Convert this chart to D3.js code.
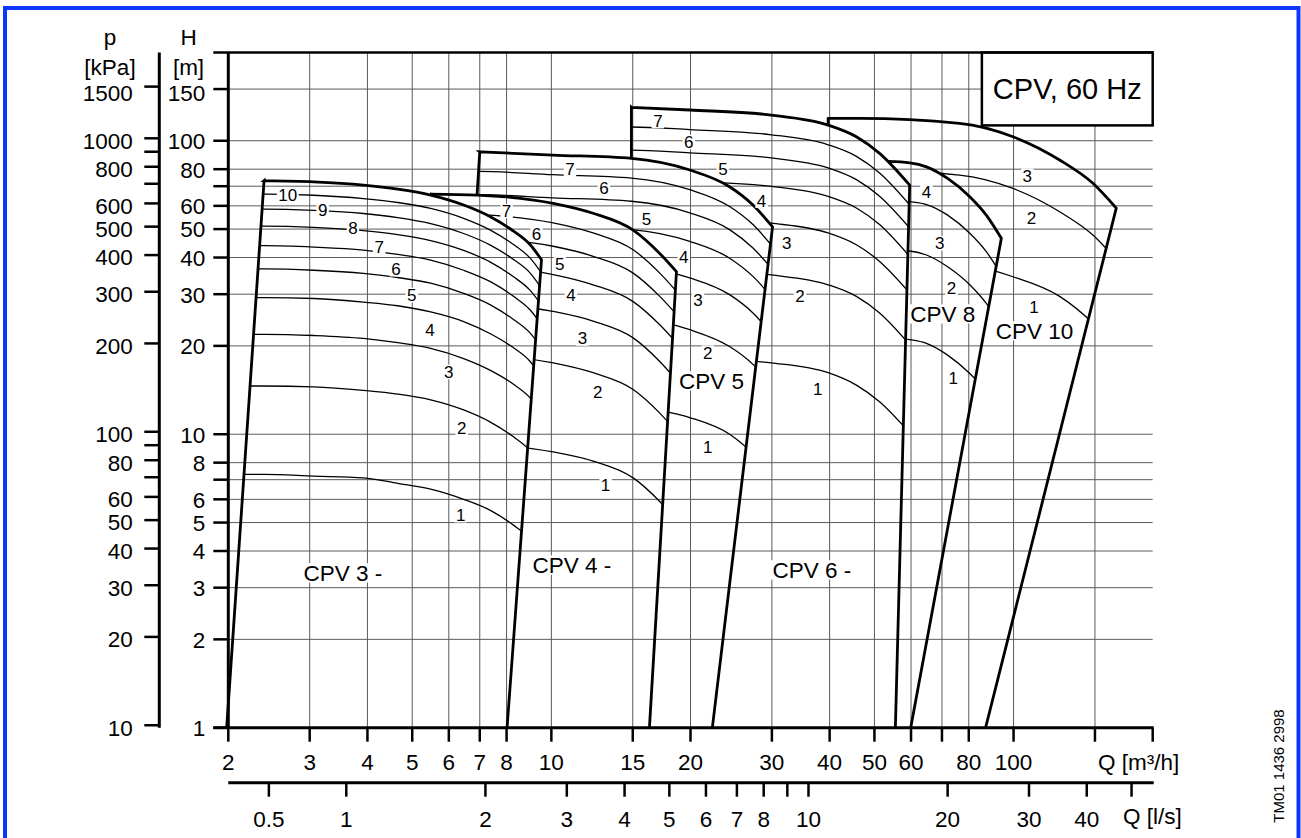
<!DOCTYPE html>
<html><head><meta charset="utf-8">
<script src="https://cdn.jsdelivr.net/npm/d3@7"></script>
<style>
body{margin:0;background:#fff}
svg{display:block}
text{font-family:"Liberation Sans",Arial,Helvetica,sans-serif;fill:#000}
</style>
</head><body>
<svg id="c" width="1301" height="838"></svg>
<script>
// ---------------- axis data ----------------
const qTicks = [2,3,4,5,6,7,8,10,15,20,30,40,50,60,70,80,100,150,200];
const qTickLabels = ["2","3","4","5","6","7","8","10","15","20","30","40","50","60","","80","100","",""];
const lsTicks = [0.68,1,2,3,4,5,6,7,8,9,10,20,30,40,50];
const lsTickLabels = ["0.5","1","2","3","4","5","6","7","8","","10","20","30","40",""];
const hTicks = [1,2,3,4,5,6,7,8,10,20,30,40,50,60,70,80,100,150];
const hTickLabels = ["1","2","3","4","5","6","","8","10","20","30","40","50","60","","80","100","150"];
const pTicks = [10,20,30,40,50,60,70,80,90,100,200,300,400,500,600,700,800,900,1000,1500];
const pTickLabels = ["10","20","30","40","50","60","","80","","100","200","300","400","500","600","","800","","1000","1500"];
const gridQ = [3,4,5,6,7,8,10,15,20,30,40,50,60,70,80,100,150];
const gridH = [2,3,4,5,6,7,8,10,20,30,40,50,60,70,80,100,150];

// ---------------- CPV 3 ----------------
const cpv3Q = [2.0,2.39,3.06,3.92,4.65,5.48,6.46,7.38,8.28,9.0,9.52];
const cpv3Stages = [
 [7.3,7.3,7.2,7.1,6.8,6.5,6.0,5.5,4.9,4.4,3.9],
 [14.6,14.6,14.5,14.1,13.7,13.1,12.1,11.0,9.8,8.8,7.9],
 [21.9,21.9,21.7,21.2,20.5,19.6,18.1,16.5,14.8,13.3,11.8],
 [29.2,29.2,29.0,28.2,27.4,26.1,24.2,22.0,19.7,17.7,15.7],
 [36.6,36.6,36.2,35.3,34.2,32.7,30.2,27.6,24.6,22.1,19.7],
 [43.9,43.9,43.4,42.4,41.0,39.2,36.2,33.1,29.5,26.5,23.6],
 [51.2,51.2,50.7,49.4,47.9,45.7,42.3,38.6,34.4,30.9,27.5],
 [58.5,58.5,57.9,56.5,54.7,52.2,48.3,44.1,39.4,35.4,31.4],
 [65.8,65.8,65.2,63.5,61.6,58.8,54.4,49.6,44.3,39.8,35.4]
];
const cpv3TopQ = [2.39,3.06,3.92,4.65,5.48,6.46,7.38,8.28,9.0,9.52];
const cpv3TopH = [73.1,72.4,70.6,68.4,65.3,60.4,55.1,49.2,44.2,39.3];
const cpv3Base = [1.984,8.02];
const cpv3LabelQ = [6.37,6.4,6.0,5.46,4.99,4.61,4.24,3.72,3.2,2.69];
const cpv3LabelH = [5.3,10.5,16.3,22.6,29.8,36.5,43.4,50.4,58.1,65.3];

// ---------------- CPV 4 ----------------
const cpv4Q = [4.4,5.46,6.91,10.09,12.31,15.03,17.16,18.65];
const cpv4Stages = [
 [9.4,9.4,9.3,8.7,8.1,7.1,5.9,5.1],
 [18.8,18.8,18.7,17.5,16.2,14.2,11.8,10.2],
 [28.2,28.2,28.0,26.2,24.3,21.3,17.7,15.3],
 [37.6,37.6,37.3,35.0,32.3,28.3,23.6,20.5],
 [47.0,47.0,46.6,43.7,40.4,35.4,29.5,25.6],
 [56.4,56.4,56.0,52.5,48.5,42.5,35.4,30.7]
];
const cpv4TopQ = [5.46,6.91,10.09,12.31,15.03,17.16,18.65];
const cpv4TopH = [65.8,65.3,61.2,56.6,49.6,41.3,35.8];
const cpv4Base = [4.5,16.3];
const cpv4LabelQ = [13.1,12.6,11.68,11.02,10.43,9.29,8.0];
const cpv4LabelH = [6.71,13.9,21.2,29.8,37.9,48.1,57.6];

// ---------------- CPV 5 ----------------
const cpv5Q = [5.5,7.0,10.07,14.9,19.93,24.3,27.3,30.1];
const cpv5Stages = [
 [13.1,13.1,12.8,12.4,11.4,10.0,8.6,7.3],
 [26.2,26.2,25.5,24.9,22.7,19.9,17.3,14.5],
 [39.3,39.3,38.3,37.3,34.1,29.9,25.9,21.8],
 [52.4,52.4,51.1,49.8,45.4,39.8,34.5,29.1],
 [65.5,65.5,63.9,62.2,56.8,49.8,43.1,36.4],
 [78.6,78.6,76.6,74.6,68.1,59.7,51.8,43.6]
];
const cpv5TopQ = [7.0,10.07,14.9,19.93,24.3,27.3,30.1];
const cpv5TopH = [91.7,89.4,87.1,79.5,69.7,60.4,50.9];
const cpv5Base = [5.85,22.3];
const cpv5LabelQ = [21.79,21.8,20.76,19.34,16.06,12.99,10.97];
const cpv5LabelH = [9.04,18.95,28.7,40.3,54,68.8,79.9];

// ---------------- CPV 6 ----------------
const cpv6Q = [14.0,14.9,19.93,29.9,39.7,45.7,51.3,59.6];
const cpv6Stages = [
 [18.6,18.6,18.2,17.5,16.2,14.7,12.9,10.1],
 [37.1,37.1,36.4,34.9,32.3,29.5,25.9,20.2],
 [55.7,55.7,54.6,52.4,48.5,44.2,38.8,30.3],
 [74.3,74.3,72.7,69.9,64.6,59.0,51.8,40.3],
 [92.9,92.9,90.9,87.4,80.8,73.7,64.7,50.4],
 [111.4,111.4,109.1,104.8,96.9,88.5,77.7,60.5]
];
const cpv6TopQ = [14.9,19.93,29.9,39.7,45.7,51.3,59.6];
const cpv6TopH = [130,127.3,122.3,113.1,103.2,90.6,70.6];
const cpv6Base = [14.9,55.5];
const cpv6LabelQ = [37.7,34.5,32.3,28.5,23.5,19.83,17.0];
const cpv6LabelH = [14.3,29.6,44.8,62.5,79.9,99,116.7];

// ---------------- CPV 8 ----------------
const cpv8Q = [50,53.5,59.6,64.8,72,80.4,87.3,94.1];
const cpv8Stages = [
 [21.3,21.3,21.0,20.4,18.6,16.1,14.0,11.6],
 [42.5,42.5,42.1,40.8,37.2,32.3,27.9,23.3],
 [63.0,63.0,62.0,60.6,55.8,48.4,41.9,34.9]
];
const cpv8TopQ = [53.5,59.6,64.8,72,80.4,87.3,94.1];
const cpv8TopH = [85,84.1,81.5,74.4,64.5,55.8,46.5];
const cpv8Base = [50,59.9];
const cpv8LabelQ = [74,73.4,69.2,64.8];
const cpv8LabelH = [15.5,31.4,44.7,67];

// ---------------- CPV 10 ----------------
const cpv10Q = [38,39.7,46.5,76.4,99.7,125.8,148.5,166.8];
const cpv10Stages = [
 [39.7,39.7,39.7,38.2,34.4,29.5,23.9,19.6],
 [79.5,79.5,79.5,76.4,68.8,57.3,47.7,39.3]
];
const cpv10TopQ = [39.7,46.5,76.4,99.7,125.8,148.5,166.8];
const cpv10TopH = [119.2,119.2,114.6,103.2,86,71.6,58.9];
const cpv10Base = [39.7,87];
const cpv10LabelQ = [110.7,109.3,107.1];
const cpv10LabelH = [27.2,54.4,76];

// ---------------- family names / labels ----------------
const famNames = ["CPV 3 -","CPV 4 -","CPV 5","CPV 6 -","CPV 8","CPV 10"];
const famLabelQ = [3.54,11.08,22.2,36.6,70.3,111];
const famLabelH = [3.37,3.58,15.2,3.45,25.7,22.5];
const titleText = "CPV, 60 Hz";
const titleBoxQ = 85.4, titleBoxH = 112.8;

const families = [
 {q:cpv3Q,stages:cpv3Stages,topQ:cpv3TopQ,topH:cpv3TopH,base:cpv3Base,lq:cpv3LabelQ,lh:cpv3LabelH},
 {q:cpv4Q,stages:cpv4Stages,topQ:cpv4TopQ,topH:cpv4TopH,base:cpv4Base,lq:cpv4LabelQ,lh:cpv4LabelH},
 {q:cpv5Q,stages:cpv5Stages,topQ:cpv5TopQ,topH:cpv5TopH,base:cpv5Base,lq:cpv5LabelQ,lh:cpv5LabelH},
 {q:cpv6Q,stages:cpv6Stages,topQ:cpv6TopQ,topH:cpv6TopH,base:cpv6Base,lq:cpv6LabelQ,lh:cpv6LabelH},
 {q:cpv8Q,stages:cpv8Stages,topQ:cpv8TopQ,topH:cpv8TopH,base:cpv8Base,lq:cpv8LabelQ,lh:cpv8LabelH},
 {q:cpv10Q,stages:cpv10Stages,topQ:cpv10TopQ,topH:cpv10TopH,base:cpv10Base,lq:cpv10LabelQ,lh:cpv10LabelH}
];

// ---------------- drawing ----------------
const W=1301,HH=838;
const svg=d3.select("#c");
const x=d3.scaleLog().domain([2,200]).range([228.3,1152.7]);
const y=d3.scaleLog().domain([1,200]).range([727.7,52.4]);
const X0=x(2),X1=x(200),Y0=y(1),Y1=y(200);
const defs=svg.append("defs");

// blue frame
svg.append("rect").attr("x",5).attr("y",8).attr("width",1293.5).attr("height",900)
  .attr("fill","none").attr("stroke","#0a36ff").attr("stroke-width",4);

// grid
const grid=svg.append("g").attr("stroke","#5a5a5a").attr("stroke-width",1);
gridQ.forEach(q=>grid.append("line").attr("x1",x(q)).attr("x2",x(q)).attr("y1",Y1).attr("y2",Y0));
gridH.forEach(h=>grid.append("line").attr("x1",X0).attr("x2",X1).attr("y1",y(h)).attr("y2",y(h)));

// families
const lineGen=d3.line().x(d=>x(d[0])).y(d=>y(d[1])).curve(d3.curveMonotoneX);
const regions=[];
families.forEach((f,i)=>{
  const n=f.topQ.length;
  const topPts=f.topQ.map((q,k)=>[q,f.topH[k]]);
  const lt=[x(f.topQ[0]),y(f.topH[0])], rt=[x(f.topQ[n-1]),y(f.topH[n-1])];
  const lb=[x(f.base[0]),Y0], rb=[x(f.base[1]),Y0];
  const topD=lineGen(topPts);
  const outline=`M${lb}L${lt}`+topD.replace(/^M/,"L")+`L${rb}`;
  const regionD=outline+"Z";
  const clipD=`M${lb}L${lt}L${lt[0]},${Y1-20}L${rt[0]+2},${Y1-20}L${rt}L${rb}Z`;
  defs.append("clipPath").attr("id","clip"+i).append("path").attr("d",clipD);
  const g=svg.append("g");
  if(i>0){
    const m=defs.append("mask").attr("id","mask"+i).attr("maskUnits","userSpaceOnUse")
      .attr("x",0).attr("y",0).attr("width",W).attr("height",HH);
    m.append("rect").attr("width",W).attr("height",HH).attr("fill","#fff");
    regions.forEach(d=>m.append("path").attr("d",d).attr("fill","#000"));
    g.attr("mask",`url(#mask${i})`);
  }
  regions.push(regionD);
  const gc=g.append("g").attr("clip-path",`url(#clip${i})`);
  f.stages.forEach(st=>{
    gc.append("path").attr("d",lineGen(f.q.map((q,k)=>[q,st[k]])))
      .attr("fill","none").attr("stroke","#000").attr("stroke-width",1.3);
  });
  g.append("path").attr("d",outline).attr("fill","none").attr("stroke","#000")
    .attr("stroke-width",2.8).attr("stroke-linejoin","miter");
});

// labels with white background
const labG=svg.append("g");
function boxLabel(txt,px,py,size){
  const t=labG.append("text").attr("x",px).attr("y",py).attr("dy","0.355em")
    .attr("text-anchor","middle").attr("font-size",size).text(txt);
  const b=t.node().getBBox();
  const h=size*0.86;
  labG.insert("rect",()=>t.node()).attr("x",b.x-1.5).attr("y",py-h/2).attr("width",b.width+3)
    .attr("height",h).attr("fill","#fff");
}
families.forEach(f=>{
  f.lq.forEach((q,k)=>boxLabel(String(k+1),x(q),y(f.lh[k]),17));
});
famNames.forEach((nm,i)=>boxLabel(nm,x(famLabelQ[i]),y(famLabelH[i]),22.5));

// title box
const tx=x(titleBoxQ), ty=y(titleBoxH);
svg.append("rect").attr("x",tx).attr("y",Y1).attr("width",X1-tx).attr("height",ty-Y1)
  .attr("fill","#fff").attr("stroke","#000").attr("stroke-width",2.5);
svg.append("text").attr("x",(tx+X1)/2).attr("y",(Y1+ty)/2).attr("dy","0.355em")
  .attr("text-anchor","middle").attr("font-size",29).text(titleText);

// axes
const ax=svg.append("g").attr("stroke","#000");
ax.append("line").attr("x1",X0).attr("x2",X0).attr("y1",Y1).attr("y2",Y0).attr("stroke-width",3);
ax.append("line").attr("x1",X0-15).attr("x2",X1).attr("y1",Y1).attr("y2",Y1).attr("stroke-width",2.5);
ax.append("line").attr("x1",X0-15).attr("x2",X1+1).attr("y1",Y0).attr("y2",Y0).attr("stroke-width",3);
// Q ticks
qTicks.forEach((q,i)=>{
  ax.append("line").attr("x1",x(q)).attr("x2",x(q)).attr("y1",Y0).attr("y2",Y0+14).attr("stroke-width",2.5);
  if(qTickLabels[i]) svg.append("text").attr("x",x(q)).attr("y",Y0+42).attr("text-anchor","middle")
    .attr("font-size",22.5).text(qTickLabels[i]);
});
svg.append("text").attr("x",1098).attr("y",Y0+42).attr("font-size",22.5).text("Q [m³/h]");
// l/s axis
const LY=782.7;
ax.append("line").attr("x1",X0).attr("x2",X1+1).attr("y1",LY).attr("y2",LY).attr("stroke-width",3);
lsTicks.forEach((v,i)=>{
  ax.append("line").attr("x1",x(v*3.6)).attr("x2",x(v*3.6)).attr("y1",LY).attr("y2",LY+14).attr("stroke-width",2.5);
  if(lsTickLabels[i]) svg.append("text").attr("x",x(v*3.6)).attr("y",LY+44).attr("text-anchor","middle")
    .attr("font-size",22.5).text(lsTickLabels[i]);
});
svg.append("text").attr("x",1123).attr("y",LY+41).attr("font-size",22.5).text("Q [l/s]");
// H ticks (top label sits a little below its tick, as in the reference)
hTicks.forEach((h,i)=>{
  ax.append("line").attr("x1",X0-15).attr("x2",X0).attr("y1",y(h)).attr("y2",y(h)).attr("stroke-width",2.5);
  const shift = h===150 ? 4 : 0;
  if(hTickLabels[i]) svg.append("text").attr("x",X0-23).attr("y",y(h)+shift).attr("dy","0.37em").attr("text-anchor","end")
    .attr("font-size",22.5).text(hTickLabels[i]);
});
// p axis
const PX=159.3;
ax.append("line").attr("x1",PX).attr("x2",PX).attr("y1",Y1).attr("y2",Y0).attr("stroke-width",3);
pTicks.forEach((p,i)=>{
  const yy=y(p/9.81);
  ax.append("line").attr("x1",PX-15).attr("x2",PX).attr("y1",yy).attr("y2",yy).attr("stroke-width",2.5);
  const shift = p===1500 ? 6 : 2;
  if(pTickLabels[i]) svg.append("text").attr("x",PX-26.6).attr("y",yy+shift).attr("dy","0.37em").attr("text-anchor","end")
    .attr("font-size",22.5).text(pTickLabels[i]);
});
svg.append("text").attr("x",110).attr("y",45).attr("text-anchor","middle").attr("font-size",22.5).text("p");
svg.append("text").attr("x",110).attr("y",75).attr("text-anchor","middle").attr("font-size",22.5).text("[kPa]");
svg.append("text").attr("x",188.5).attr("y",45).attr("text-anchor","middle").attr("font-size",22.5).text("H");
svg.append("text").attr("x",188.5).attr("y",75).attr("text-anchor","middle").attr("font-size",22.5).text("[m]");
// stamp
svg.append("text").attr("transform","translate(1284,766) rotate(-90)").attr("text-anchor","middle")
  .attr("font-size",15).text("TM01 1436 2998");
</script>
</body></html>
